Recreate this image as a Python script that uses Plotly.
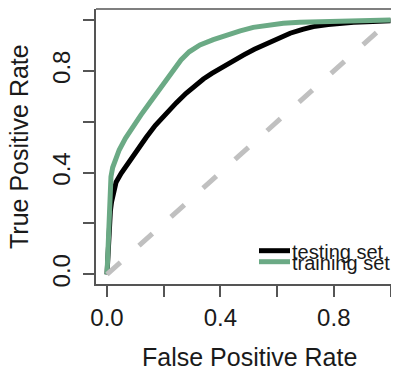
import plotly.graph_objects as go

# ROC curve data
test_fpr = [0.0, 0.004, 0.008, 0.012, 0.016, 0.022, 0.032, 0.05, 0.079, 0.1, 0.138, 0.17, 0.208, 0.245, 0.279, 0.31, 0.34, 0.37, 0.399,
            0.44, 0.481, 0.52, 0.563, 0.6, 0.646, 0.69, 0.728, 0.78, 0.822, 0.87, 0.916, 0.96, 1.0]
test_tpr = [0.0, 0.1, 0.19, 0.25, 0.285, 0.32, 0.362, 0.397, 0.445, 0.478, 0.538, 0.585, 0.633, 0.675, 0.712, 0.742, 0.768, 0.79, 0.81,
            0.836, 0.862, 0.885, 0.908, 0.928, 0.948, 0.963, 0.974, 0.982, 0.987, 0.991, 0.993, 0.995, 0.997]

train_fpr = [0.0, 0.004, 0.008, 0.011, 0.014, 0.02, 0.03, 0.043, 0.065, 0.09, 0.12, 0.149, 0.18, 0.208, 0.235, 0.261, 0.29, 0.328,
             0.375, 0.422, 0.47, 0.516, 0.57, 0.622, 0.68, 0.74, 0.81, 0.88, 0.94, 1.0]
train_tpr = [0.0, 0.1, 0.253, 0.33, 0.384, 0.42, 0.455, 0.489, 0.535, 0.58, 0.627, 0.672, 0.72, 0.764, 0.805, 0.843, 0.875, 0.902,
             0.923, 0.941, 0.957, 0.971, 0.98, 0.987, 0.991, 0.993, 0.995, 0.997, 0.999, 1.0]

diag = [0.0, 1.0]

tick_vals = [0.0, 0.2, 0.4, 0.6, 0.8, 1.0]
tick_text = ["0.0", "", "0.4", "", "0.8", ""]

series_names = ["testing set", "training set"]
series_colors = ["#000000", "#6BAA85"]

FONT = "Liberation Sans, Arial, Helvetica, sans-serif"
AX = "#555555"
TXT = "#1a1a1a"

fig = go.Figure()
fig.add_trace(go.Scatter(x=test_fpr, y=test_tpr, mode="lines",
                         line=dict(color=series_colors[0], width=5),
                         showlegend=False, hoverinfo="skip"))
fig.add_trace(go.Scatter(x=train_fpr, y=train_tpr, mode="lines",
                         line=dict(color=series_colors[1], width=5),
                         showlegend=False, hoverinfo="skip"))
fig.add_trace(go.Scatter(x=diag, y=diag, mode="lines",
                         line=dict(color="#C0C0C0", width=5, dash="18px,25px"),
                         showlegend=False, hoverinfo="skip"))

# page has an 8px body margin: figure is placed at (8, 8)
OFF = 8
W, H = 399 - OFF, 370 - OFF
# plot area in page pixels: x 96..399, y 9..284
PL, PR, PT, PB = 96, 399, 9, 284
L, R, T, B = PL - OFF, 0, PT - OFF, 370 - PB
PW, PH = PR - PL, PB - PT

def px(xp):
    return (xp - PL) / PW

def py(yp):
    return (PB - yp) / PH

annotations = []
shapes = []
# legend (manual, tight rows like the original)
leg_rows = [250.7, 261.7]
for name, col, yl in zip(series_names, series_colors, leg_rows):
    shapes.append(dict(type="line", xref="paper", yref="paper",
                       x0=px(259), x1=px(290), y0=py(yl), y1=py(yl),
                       line=dict(color=col, width=5)))
    annotations.append(dict(text=name, xref="paper", yref="paper",
                            x=px(291), y=py(yl + 1.5), xanchor="left", yanchor="middle",
                            borderpad=0,
                            showarrow=False, font=dict(family=FONT, size=20, color=TXT)))
# top border of the box
shapes.append(dict(type="line", xref="paper", yref="paper", x0=0, x1=1, y0=1, y1=1,
                   line=dict(color=AX, width=1.5)))
# axis titles
annotations.append(dict(text="False Positive Rate", xref="paper", yref="paper",
                        x=px(249), y=py(356.5), xanchor="center", yanchor="middle",
                        showarrow=False, font=dict(family=FONT, size=25, color=TXT)))
annotations.append(dict(text="True Positive Rate", xref="paper", yref="paper",
                        x=px(19), y=py(147), xanchor="center", yanchor="middle", textangle=-90,
                        borderpad=0,
                        showarrow=False, font=dict(family=FONT, size=25, color=TXT)))

fig.update_layout(
    width=W, height=H,
    margin=dict(l=L, r=R, t=T, b=B, pad=0),
    paper_bgcolor="white", plot_bgcolor="white",
    showlegend=False,
    shapes=shapes, annotations=annotations,
    xaxis=dict(range=[-0.0388, 1.030], showgrid=False, zeroline=False,
               showline=True, linecolor=AX, linewidth=1.5,
               ticks="outside", ticklen=11, tickwidth=1.5, tickcolor=AX,
               tickvals=tick_vals, ticktext=tick_text,
               tickfont=dict(family=FONT, size=24, color=TXT)),
    yaxis=dict(range=[-0.0381, 1.0433], showgrid=False, zeroline=False,
               showline=True, linecolor=AX, linewidth=1.5,
               ticks="outside", ticklen=11, tickwidth=1.5, tickcolor=AX,
               tickvals=tick_vals, ticktext=tick_text, tickangle=-90,
               ticklabelstandoff=4,
               tickfont=dict(family=FONT, size=24, color=TXT)),
)

fig.write_html("out.html")
